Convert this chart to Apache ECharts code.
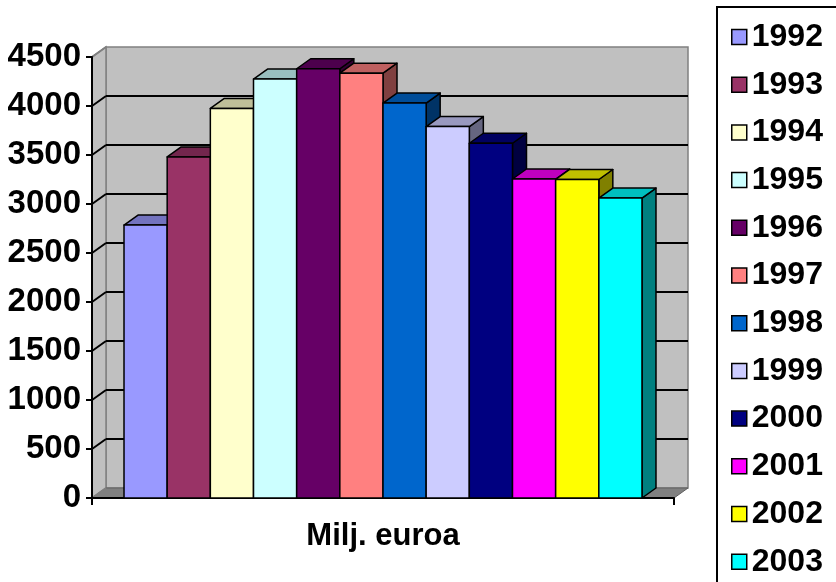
<!DOCTYPE html>
<html>
<head>
<meta charset="utf-8">
<script src="https://cdn.jsdelivr.net/npm/echarts@6/dist/echarts.min.js"></script>
<style>
  html, body { margin: 0; padding: 0; background: #ffffff; }
  #chart { width: 836px; height: 582px; }
</style>
</head>
<body>
<div id="chart"></div>
<script>
// ---- data ----
const categories = ['Milj. euroa'];
const years = ['1992', '1993', '1994', '1995', '1996', '1997', '1998', '1999', '2000', '2001', '2002', '2003'];
const values = [2785, 3480, 3975, 4275, 4380, 4335, 4030, 3790, 3620, 3255, 3250, 3060];
const yTicks = [0, 500, 1000, 1500, 2000, 2500, 3000, 3500, 4000, 4500];

// ---- styling ----
const colors = ['#9999FF', '#993366', '#FFFFCC', '#CCFFFF', '#660066', '#FF8080',
                '#0066CC', '#CCCCFF', '#000080', '#FF00FF', '#FFFF00', '#00FFFF'];
const FONT = '"Liberation Sans", Arial, sans-serif';
const DX = 14;          // horizontal depth offset of the 3D box
const DY = 10;          // vertical depth offset of the 3D box
const EDGE_GAP = 0.055; // empty share of the category band on each side

function shade(hex, k) {
  const n = parseInt(hex.slice(1), 16);
  const r = Math.round(((n >> 16) & 255) * k);
  const g = Math.round(((n >> 8) & 255) * k);
  const b = Math.round((n & 255) * k);
  return 'rgb(' + r + ',' + g + ',' + b + ')';
}

// Walls, floor and gridlines of the 3D plot box
function renderFrame(params, api) {
  const cs = params.coordSys;
  const y = api.coord([0, api.value(1)])[1];
  const yTop = api.coord([0, yTicks[yTicks.length - 1]])[1];
  const yBase = api.coord([0, 0])[1];
  const xl = cs.x, xr = cs.x + cs.width;
  const children = [];
  if (params.dataIndex === 0) {
    children.push(
      { type: 'rect', shape: { x: xl + DX, y: yTop - DY, width: cs.width, height: yBase - yTop },
        style: { fill: '#c0c0c0', stroke: '#808080', lineWidth: 1.5 } },
      { type: 'polygon', shape: { points: [[xl, yBase], [xl, yTop], [xl + DX, yTop - DY], [xl + DX, yBase - DY]] },
        style: { fill: '#c0c0c0', stroke: '#808080', lineWidth: 1.5 } },
      { type: 'polygon', shape: { points: [[xl, yBase], [xr, yBase], [xr + DX, yBase - DY], [xl + DX, yBase - DY]] },
        style: { fill: '#808080', stroke: '#606060', lineWidth: 1 } }
    );
  }
  const v = api.value(1);
  const inner = v > 0 && v < yTicks[yTicks.length - 1];
  if (inner) {
    children.push(
      { type: 'line', shape: { x1: xl + DX, y1: y - DY, x2: xr + DX, y2: y - DY },
        style: { stroke: '#000', lineWidth: 2 } }
    );
  }
  children.push(
    { type: 'line', shape: { x1: xl, y1: y, x2: xl + DX, y2: y - DY },
      style: { stroke: inner ? '#000' : '#808080', lineWidth: 2 } }
  );
  return { type: 'group', children: children };
}

// One 3D column: side face, top face, front face
function barRenderer(idx) {
  return function (params, api) {
    const v = api.value(1);
    const base = api.coord([api.value(0), 0]);
    const top = api.coord([api.value(0), v]);
    const band = api.size([1, 0])[0];
    const barW = band * (1 - 2 * EDGE_GAP) / years.length;
    const x0 = base[0] - band / 2 + band * EDGE_GAP + idx * barW;
    const x1 = x0 + barW;
    const yb = base[1], yt = top[1];
    const c = colors[idx];
    const line = { stroke: '#000', lineWidth: 1.5, lineJoin: 'round' };
    return {
      type: 'group',
      children: [
        { type: 'polygon', shape: { points: [[x1, yb], [x1 + DX, yb - DY], [x1 + DX, yt - DY], [x1, yt]] },
          style: Object.assign({ fill: shade(c, 0.5) }, line) },
        { type: 'polygon', shape: { points: [[x0, yt], [x0 + DX, yt - DY], [x1 + DX, yt - DY], [x1, yt]] },
          style: Object.assign({ fill: shade(c, 0.75) }, line) },
        { type: 'rect', shape: { x: x0, y: yt, width: barW, height: yb - yt },
          style: Object.assign({ fill: c }, line) }
      ]
    };
  };
}

const series = [{
  type: 'custom',
  name: 'frame',
  z: -1,
  clip: false,
  silent: true,
  renderItem: renderFrame,
  encode: { x: 0, y: 1 },
  data: yTicks.map(t => [0, t])
}];

years.forEach((yr, i) => {
  series.push({
    type: 'custom',
    name: yr,
    clip: false,
    itemStyle: { color: colors[i] },
    renderItem: barRenderer(i),
    encode: { x: 0, y: 1 },
    data: [[0, values[i]]]
  });
});

const chart = echarts.init(document.getElementById('chart'), null, { renderer: 'canvas' });
chart.setOption({
  animation: false,
  backgroundColor: '#ffffff',
  textStyle: { fontFamily: FONT },
  graphic: [{
    type: 'rect',
    z: -10,
    shape: { x: 717, y: 7, width: 140, height: 600 },
    style: { fill: '#ffffff', stroke: '#000000', lineWidth: 2 }
  }],
  grid: {
    left: 92, top: 57, width: 582, height: 441,
    containLabel: false,
    outerBoundsMode: 'none'
  },
  xAxis: {
    type: 'category',
    data: categories,
    boundaryGap: true,
    axisLine: { show: true, lineStyle: { color: '#000', width: 2 } },
    axisTick: { show: true, length: 7, lineStyle: { color: '#000', width: 2 } },
    axisLabel: { fontSize: 31, fontWeight: 'bold', color: '#000', margin: 23, fontFamily: FONT },
    splitLine: { show: false }
  },
  yAxis: {
    type: 'value',
    min: 0, max: 4500, interval: 500,
    axisLine: { show: true, lineStyle: { color: '#000', width: 2 } },
    axisTick: { show: true, length: 6, lineStyle: { color: '#000', width: 2 } },
    axisLabel: {
      fontSize: 33, fontWeight: 'bold', color: '#000', margin: 11, fontFamily: FONT,
      formatter: v => String(v)
    },
    splitLine: { show: false }
  },
  legend: {
    orient: 'vertical',
    left: 731, top: 21,
    padding: 0,
    itemWidth: 15, itemHeight: 15,
    itemGap: 15.7,
    icon: 'rect',
    selectedMode: false,
    itemStyle: { borderColor: '#000', borderWidth: 1.5 },
    textStyle: { fontSize: 32, fontWeight: 'bold', color: '#000', lineHeight: 32, fontFamily: FONT },
    data: years
  },
  series: series
});
</script>
</body>
</html>
